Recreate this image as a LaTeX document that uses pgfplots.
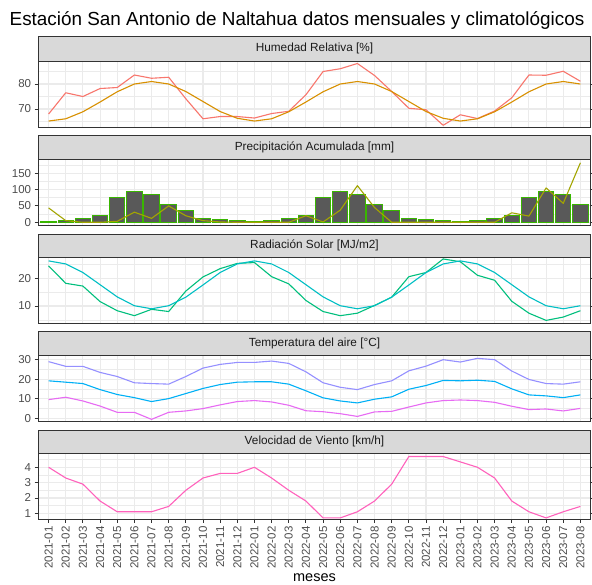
\documentclass[border=0pt]{standalone}
\usepackage{fontspec}
\setmainfont{Liberation Sans}
\usepackage{pgfplots}
\pgfplotsset{compat=1.18}
\usepackage{pgfplotstable}

\definecolor{gtwenty}{HTML}{333333}
\definecolor{gthirty}{HTML}{4D4D4D}
\definecolor{gten}{HTML}{1A1A1A}
\definecolor{geightyfive}{HTML}{D9D9D9}
\definecolor{gninetytwo}{HTML}{EBEBEB}
\definecolor{barfill}{HTML}{595959}
\definecolor{cA}{HTML}{F8766D}
\definecolor{cB}{HTML}{D89000}
\definecolor{cC}{HTML}{A3A500}
\definecolor{cD}{HTML}{39B600}
\definecolor{cE}{HTML}{00BF7D}
\definecolor{cF}{HTML}{00BFC4}
\definecolor{cG}{HTML}{00B0F6}
\definecolor{cH}{HTML}{9590FF}
\definecolor{cI}{HTML}{E76BF3}
\definecolor{cJ}{HTML}{FF62BC}

\pgfplotstableread{
i hr hrc pp ppc rad radc tmax tmean tmin wind
0 68.0 65.2 44 1 24.5 26.3 29.0 19.2 9.6 4.0
1 76.5 66.1 5 5 18.2 25.2 26.6 18.5 10.8 3.3
2 75.0 68.9 0 12 17.2 22.1 26.6 17.8 8.9 2.9
3 78.2 72.8 0 20 11.6 17.7 23.5 14.7 6.3 1.8
4 78.6 76.9 3 76 8.3 13.3 21.4 12.2 3.1 1.1
5 83.6 80.0 31 93 6.5 10.1 18.2 10.6 3.1 1.1
6 82.3 81.0 12 86 8.8 9.0 17.8 8.6 -0.5 1.1
7 82.7 80.0 50 53 8.0 10.1 17.5 10.1 3.1 1.45
8 74.1 77.0 20 37 15.4 13.2 21.4 12.7 3.8 2.5
9 66.1 73.0 5 12 20.5 17.6 25.7 15.3 5.0 3.3
10 67.0 69.0 1 9 23.5 22.1 27.6 17.3 6.9 3.6
11 67.0 66.3 0 5 25.4 25.2 28.6 18.5 8.6 3.6
12 66.4 65.2 0 1 25.7 26.3 28.6 18.7 9.1 4.0
13 68.2 66.1 0 5 20.6 25.2 29.3 18.7 8.4 3.3
14 69.1 68.9 0 12 18.0 22.1 28.1 17.5 6.7 2.5
15 75.7 72.8 20 20 12.0 17.7 23.8 14.1 3.9 1.8
16 85.0 76.9 1 76 8.0 13.3 18.2 10.5 3.4 0.7
17 86.1 80.0 37 93 6.5 10.1 15.9 8.9 2.4 0.7
18 88.2 81.0 112 86 7.4 9.0 14.7 7.9 1.0 1.1
19 83.4 80.0 45 53 10.2 10.1 17.3 9.8 3.3 1.8
20 77.0 77.0 0 37 13.2 13.2 19.2 11.0 3.6 2.9
21 70.3 73.0 0 12 20.6 17.6 24.3 14.9 5.8 4.7
22 69.7 69.0 0 9 22.1 22.1 26.7 16.8 7.9 4.7
23 63.5 66.3 0 5 27.0 25.2 30.0 19.4 9.1 4.7
24 67.7 65.2 0 1 26.0 26.3 28.8 19.2 9.4 4.35
25 66.2 66.1 0 5 21.1 25.2 30.7 19.5 9.1 4.0
26 69.2 68.9 0 12 19.3 22.1 30.0 18.9 8.2 3.3
27 74.5 72.8 29 20 11.7 17.7 24.2 15.1 6.2 1.8
28 83.6 76.9 19 76 7.4 13.3 19.9 12.0 4.5 1.1
29 83.5 80.0 105 93 4.8 10.1 17.8 11.5 4.8 0.7
30 85.1 81.0 58 86 6.0 9.0 17.5 10.6 3.8 1.1
31 81.1 80.0 182 53 8.3 10.1 18.7 12.0 5.1 1.45
}\datatable

\pgfplotsset{
  panel/.style={
    scale only axis, width=552.4pt, anchor=south west,
    xmin=-0.6, xmax=31.6, xtick={0,...,31},
    xmajorgrids=true, ymajorgrids=true, yminorgrids=true,
    major grid style={draw=gninetytwo, line width=1.1pt},
    minor grid style={draw=gninetytwo, line width=0.55pt},
    axis line style={draw=gtwenty, line width=0.9pt},
    tick align=outside, major tick length=3.7pt, minor tick length=0pt,
    tick style={draw=gtwenty, line width=0.9pt},
    ticklabel style={font=\fontsize{11.5}{12}\selectfont, text=gthirty},
    /pgf/number format/assume math mode=true,
    clip=true,
  },
  notx/.style={xticklabels={}, xtick style={draw=none}},
  ln/.style={line width=1.1pt, no markers, sharp plot, line join=round},
}
\tikzset{
  strip/.style={fill=geightyfive, draw=gtwenty, line width=0.9pt},
  striptext/.style={font=\fontsize{11.8}{12}\selectfont, text=gten},
}

\begin{document}
\begin{tikzpicture}
\path[use as bounding box, fill=white] (0,0) rectangle (592pt,584pt);

% title
\node[anchor=base, font=\fontsize{18.9}{20}\selectfont, text=black] at (297pt,558.5pt) {Estación San Antonio de Naltahua datos mensuales y climatológicos};

% Panel 1: Humedad
\begin{axis}[panel, notx, at={(38.3pt,456.7pt)}, height=66.3pt,
  ymin=62.7, ymax=89.2, ytick={70,80}, minor ytick={65,75,85}]
  \addplot[ln, cA] table[x=i, y=hr] {\datatable};
  \addplot[ln, cB] table[x=i, y=hrc] {\datatable};
\end{axis}
\draw[strip] (38.3pt,523pt) rectangle (590.7pt,547.3pt);
\node[striptext] at (314.5pt,535.15pt) {Humedad Relativa [\%]};

% Panel 2: Precipitacion
\begin{axis}[panel, notx, at={(38.3pt,358.7pt)}, height=66.3pt,
  ymin=-9.2, ymax=193.5, ytick={0,50,100,150}, minor ytick={25,75,125,175}]
  \addplot[ybar, bar width=0.9, fill=barfill, draw=cD, line width=1pt] table[x=i, y=ppc] {\datatable};
  \addplot[ln, cC] table[x=i, y=pp] {\datatable};
\end{axis}
\draw[strip] (38.3pt,425pt) rectangle (590.7pt,448.7pt);
\node[striptext] at (314.5pt,436.85pt) {Precipitación Acumulada [mm]};

% Panel 3: Radiacion
\begin{axis}[panel, notx, at={(38.3pt,260.7pt)}, height=66pt,
  ymin=3.75, ymax=27.6, ytick={10,20}, minor ytick={5,15,25}]
  \addplot[ln, cE] table[x=i, y=rad] {\datatable};
  \addplot[ln, cF] table[x=i, y=radc] {\datatable};
\end{axis}
\draw[strip] (38.3pt,326.7pt) rectangle (590.7pt,350pt);
\node[striptext] at (314.5pt,338.35pt) {Radiación Solar [MJ/m2]};

% Panel 4: Temperatura
\begin{axis}[panel, notx, at={(38.3pt,162.3pt)}, height=66.7pt,
  ymin=-1.7, ymax=32.4, ytick={0,10,20,30}, minor ytick={5,15,25}]
  \addplot[ln, cH] table[x=i, y=tmax] {\datatable};
  \addplot[ln, cG] table[x=i, y=tmean] {\datatable};
  \addplot[ln, cI] table[x=i, y=tmin] {\datatable};
\end{axis}
\draw[strip] (38.3pt,229pt) rectangle (590.7pt,252.3pt);
\node[striptext] at (314.5pt,240.65pt) {Temperatura del aire [°C]};

% Panel 5: Viento
\begin{axis}[panel, at={(38.3pt,64.7pt)}, height=66pt,
  ymin=0.61, ymax=4.91, ytick={1,2,3,4}, minor ytick={1.5,2.5,3.5,4.5},
  xticklabels={2021-01,2021-02,2021-03,2021-04,2021-05,2021-06,2021-07,2021-08,2021-09,2021-10,2021-11,2021-12,2022-01,2022-02,2022-03,2022-04,2022-05,2022-06,2022-07,2022-08,2022-09,2022-10,2022-11,2022-12,2023-01,2023-02,2023-03,2023-04,2023-05,2023-06,2023-07,2023-08},
  xticklabel style={rotate=90, anchor=east}]
  \addplot[ln, cJ] table[x=i, y=wind] {\datatable};
\end{axis}
\draw[strip] (38.3pt,130.7pt) rectangle (590.7pt,154pt);
\node[striptext] at (314.5pt,142.35pt) {Velocidad de Viento [km/h]};

% x label
\node[anchor=base, font=\fontsize{14.5}{15}\selectfont, text=black] at (314.5pt,2.5pt) {meses};
\end{tikzpicture}
\end{document}
